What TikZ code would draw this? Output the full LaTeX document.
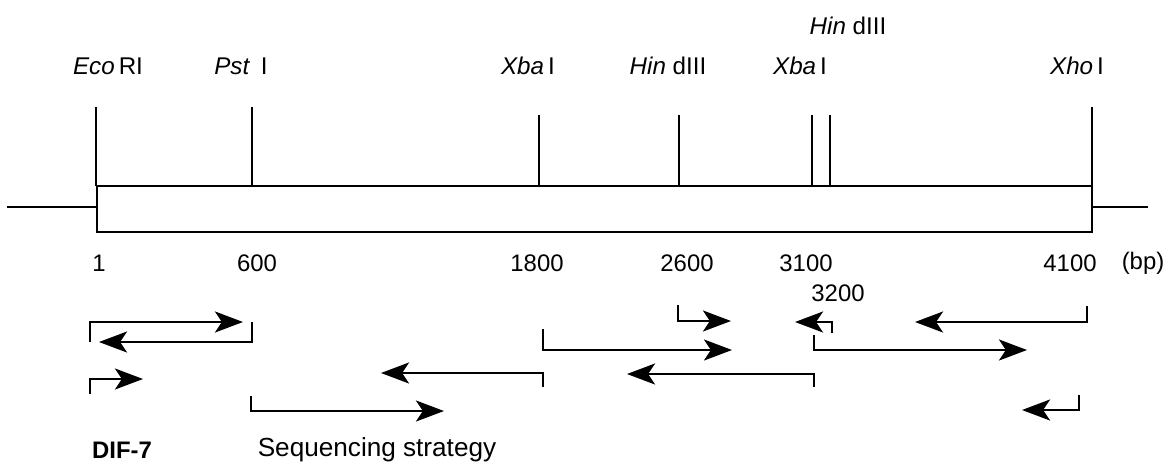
\documentclass[tikz,border=0pt]{standalone}
\usepackage{fontspec}
\setmainfont{Liberation Sans}
\usetikzlibrary{arrows.meta}

\begin{document}
\begin{tikzpicture}[
    x=0.025cm, y=-0.025cm,
    site/.style={font=\fontsize{17.2}{20}\selectfont, inner sep=0pt},
    bplabel/.style={font=\fontsize{17}{20}\selectfont, inner sep=0pt},
    cut/.style={line width=1.3pt},
    dna/.style={line width=1.5pt},
    seq/.style={line width=1.3pt, -{Stealth[length=20pt, width=15pt, inset=5pt]}},
]
    \useasboundingbox (0,0) rectangle (1174,467);

    % Insert and flanking vector
    \coordinate (boxnw) at (97,186);
    \coordinate (boxse) at (1092,232);
    \coordinate (vecl) at (7,207);
    \coordinate (vecr) at (1148,207);
    \draw[dna] (boxnw) rectangle (boxse);
    \draw[dna, line width=2pt] (vecl) -- (vecl -| boxnw);
    \draw[dna] (vecr -| boxse) -- (vecr);

    % Restriction sites
    \coordinate (eco) at (96,107);
    \coordinate (pst) at (252,107);
    \coordinate (xbaA) at (539,115);
    \coordinate (hinA) at (679,115);
    \coordinate (xbaB) at (812,115);
    \coordinate (hinB) at (830,115);
    \coordinate (xho) at (1092,107);
    \foreach \s in {eco,pst,xbaA,hinA,xbaB,hinB,xho}
        \draw[cut] (\s) -- (\s |- boxnw);

    \node[site] (ecol) at (108,66) {\textit{Eco}\,RI};
    \node[site] (pstl) at (241,66) {\textit{Pst}\hspace{0.45em}I};
    \node[site] (xbaAl) at (528,66) {\textit{Xba}\,I};
    \node[site] (hinAl) at (668,66) {\textit{Hin} dIII};
    \node[site] (xbaBl) at (800,66) {\textit{Xba}\,I};
    \node[site] (hinBl) at (848,26) {\textit{Hin} dIII};
    \node[site] (xhol) at (1077,66) {\textit{Xho}\,I};

    % Positions (bp)
    \node[bplabel] (p1) at (99,263) {1};
    \node[bplabel] (p600) at (257,263) {600};
    \node[bplabel] (p1800) at (537,263) {1800};
    \node[bplabel] (p2600) at (687,263) {2600};
    \node[bplabel] (p3100) at (806,263) {3100};
    \node[bplabel] (p3200) at (838,293) {3200};
    \node[bplabel] (p4100) at (1070,263) {4100};
    \node[bplabel] (bp) at (1143,263) {(bp)};

    % Sequencing reads: start of read and arrow tip
    \coordinate (sA) at (90,342);   \coordinate (tA) at (243,322);
    \coordinate (sB) at (252,322);  \coordinate (tB) at (99,342);
    \coordinate (sC) at (90,394);   \coordinate (tC) at (143,379);
    \coordinate (sD) at (251,396);  \coordinate (tD) at (444,411);
    \coordinate (sE) at (543,387);  \coordinate (tE) at (381,373);
    \coordinate (sF) at (543,329);  \coordinate (tF) at (732,350);
    \coordinate (sG) at (678,305);  \coordinate (tG) at (731,321);
    \coordinate (sH) at (832,333);  \coordinate (tH) at (795,322);
    \coordinate (sI) at (814,335);  \coordinate (tI) at (1027,350);
    \coordinate (sJ) at (814,387);  \coordinate (tJ) at (627,374);
    \coordinate (sK) at (1087,306); \coordinate (tK) at (915,322);
    \coordinate (sL) at (1079,395); \coordinate (tL) at (1022,410);
    \foreach \r in {A,B,C,D,E,F,G,H,I,J,K,L}
        \draw[seq] (s\r) |- (t\r);

    % Captions
    \node[font=\fontsize{17}{20}\selectfont\bfseries, inner sep=0pt] (dif) at (122,450) {DIF-7};
    \node[font=\fontsize{18.6}{22}\selectfont, inner sep=0pt] (strat) at (377,450) {Sequencing strategy};
\end{tikzpicture}
\end{document}
